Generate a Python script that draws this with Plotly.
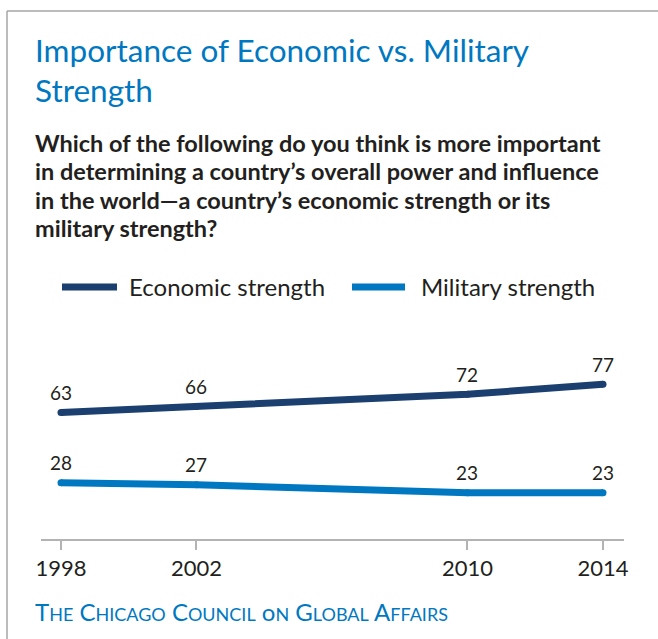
import plotly.graph_objects as go

# Survey years and shares (%) answering each option
years = [1998, 2002, 2010, 2014]
economic = [63, 66, 72, 77]
military = [28, 27, 23, 23]
tick_labels = ["1998", "2002", "2010", "2014"]

NAVY = "#1b3f6f"
BLUE = "#0078c1"
INK = "#231f20"
GRID = "#b3b3b3"

W, H = 658, 639
ML, MR, MT, MB = 41, 34, 339, 100
PW, PH = W - ML - MR, H - MT - MB


def px(x):
    """Pixel column -> paper x."""
    return (x - ML) / PW


def py(y):
    """Pixel row -> paper y."""
    return (H - MB - y) / PH


fig = go.Figure()
annotations = []
for name, vals, color in [("Economic strength", economic, NAVY),
                          ("Military strength", military, BLUE)]:
    fig.add_trace(go.Scatter(
        x=years, y=vals, name=name, mode="lines+markers",
        line=dict(color=color, width=7),
        marker=dict(color=color, size=7),
        cliponaxis=False, showlegend=False, hoverinfo="skip",
    ))
    # value labels sitting above each point
    for x, v in zip(years, vals):
        annotations.append(dict(
            text=str(v), x=x, y=v, xref="x", yref="y", yshift=20,
            xanchor="center", yanchor="middle", showarrow=False,
            font=dict(family="Lato", size=19, color=INK)))

# Title
for i, line in enumerate(["Importance of Economic vs. Military", "Strength"]):
    annotations.append(dict(
        text=line, x=px(33), y=py(50 + 40 * i), xref="paper", yref="paper",
        xanchor="left", yanchor="middle", showarrow=False,
        font=dict(family="Lato", size=31.5, color=BLUE)))
# Question
question = [
    "Which of the following do you think is more important",
    "in determining a country’s overall power and influence",
    "in the world—a country’s economic strength or its",
    "military strength?",
]
for i, line in enumerate(question):
    annotations.append(dict(
        text="<b>" + line + "</b>", x=px(33), y=py(143 + 28.3 * i),
        xref="paper", yref="paper", xanchor="left", yanchor="middle",
        showarrow=False, font=dict(family="Lato", size=23.5, color=INK)))

# Legend entries
shapes = []
for x0, x1, tx, name, color in [(62, 117, 127, "Economic strength", NAVY),
                                (352, 405, 419, "Military strength", BLUE)]:
    shapes.append(dict(type="line", xref="paper", yref="paper",
                       x0=px(x0), x1=px(x1), y0=py(287), y1=py(287),
                       line=dict(color=color, width=7)))
    annotations.append(dict(
        text=name, x=px(tx), y=py(286), xref="paper", yref="paper",
        xanchor="left", yanchor="middle", showarrow=False,
        font=dict(family="Lato", size=24, color=INK)))


# Source line in small caps
def small_caps(s, small=18):
    out = []
    for word in s.split(" "):
        out.append(word[0] + "<span style='font-size:%spx'>%s</span>"
                   % (small, word[1:].upper()))
    return " ".join(out)


annotations.append(dict(
    text=small_caps("The Chicago Council on Global Affairs"),
    x=px(33), y=py(611), xref="paper", yref="paper",
    xanchor="left", yanchor="middle", showarrow=False,
    font=dict(family="Lato", size=24, color=BLUE)))

# Frame around the panel
shapes.append(dict(type="line", xref="paper", yref="paper",
                   x0=px(7), x1=px(W + 5), y0=py(11), y1=py(11),
                   line=dict(color="#a6a6a6", width=1.5)))
shapes.append(dict(type="line", xref="paper", yref="paper",
                   x0=px(7), x1=px(7), y0=py(11), y1=py(H + 5),
                   line=dict(color="#a6a6a6", width=1.5)))

fig.update_layout(
    width=W, height=H,
    margin=dict(l=ML, r=MR, t=MT, b=MB),
    paper_bgcolor="white", plot_bgcolor="white",
    annotations=annotations, shapes=shapes,
    xaxis=dict(range=[1997.41, 2014.62], tickvals=years, ticktext=tick_labels,
               showgrid=False, zeroline=False, showline=True,
               linecolor=GRID, linewidth=1.5, ticks="outside", ticklen=9,
               tickcolor=GRID, tickwidth=1.5,
               tickfont=dict(family="Lato", size=22, color=INK)),
    yaxis=dict(range=[0, 99.55], visible=False, fixedrange=True),
)

fig.write_html("out.html")
